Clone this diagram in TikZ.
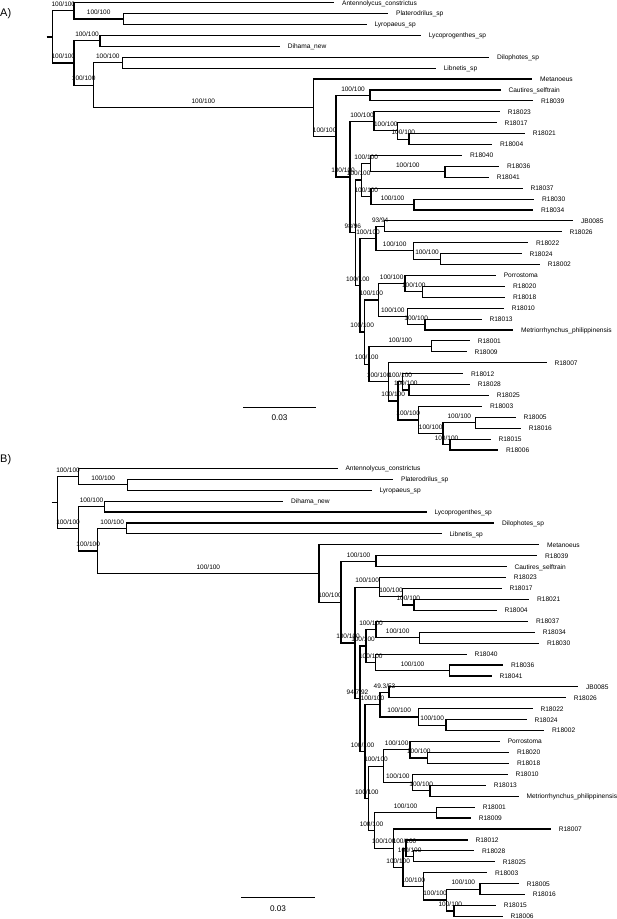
\documentclass[tikz,border=0pt]{standalone}
\usepackage{fontspec}
\setmainfont{Liberation Sans}
\usetikzlibrary{calc}
\newcommand\lff{\fontsize{6.6}{7}\selectfont}
\newcommand\svf{\fontsize{6.5}{7}\selectfont}
\tikzset{
  br/.style={line width=1.15pt},
  lf/.style={anchor=west, inner xsep=7.6pt, inner ysep=0pt, text height=4.73pt, text depth=0pt, font=\lff},
  sv/.style={anchor=base, inner sep=0pt, yshift=4.2pt, font=\svf},
  panel/.style={anchor=west, inner sep=0pt, text height=7.9pt, text depth=0pt, font=\fontsize{11}{12}\selectfont},
  sbl/.style={anchor=base, inner sep=0pt, font=\fontsize{8.2}{9}\selectfont},
}
\newcommand\trbr[2]{\draw[br] (#1) |- (#2);}
\newcommand\trsv[3]{\draw[br] (#1) |- (#2) node[sv,pos=.75] (s#2) {#3};}
\begin{document}
\begin{tikzpicture}[x=1pt,y=-1pt]
\useasboundingbox (0,0) rectangle (617,919);
%% ================= TREE A =================
\node[panel] (pa) at (0,12.5) {A)};
\coordinate (aroot) at (52.7,36.96);
\coordinate (astub) at (46.7,36.96);
\coordinate (aA1) at (74,10.88);
\coordinate (aPL) at (123.3,19.07);
\coordinate (aA2) at (74,63.04);
\coordinate (aLD) at (100,40.89);
\coordinate (aB2) at (93.3,85.18);
\coordinate (aDL) at (122.3,62.71);
\coordinate (aI) at (313.3,107.65);
\coordinate (aJ) at (336,136.23);
\coordinate (aK) at (370,95.44);
\coordinate (aL) at (350,177.01);
\coordinate (aM) at (374,121.35);
\coordinate (aM2) at (397.7,130.9);
\coordinate (aM3) at (409,139.08);
\coordinate (aR) at (355.7,232.67);
\coordinate (aP) at (361.7,179.99);
\coordinate (aX1) at (370.7,163.62);
\coordinate (aX1b) at (445,171.8);
\coordinate (aX2) at (371,196.35);
\coordinate (aX2b) at (414,204.54);
\coordinate (aS) at (360,285.34);
\coordinate (aT) at (376,238.63);
\coordinate (aU) at (384.3,226.36);
\coordinate (aV) at (413.3,250.9);
\coordinate (aVb) at (440.7,259.09);
\coordinate (aW) at (364.3,332.05);
\coordinate (aW1) at (378.3,300.0);
\coordinate (aPor) at (405,283.63);
\coordinate (aPorb) at (422.7,291.81);
\coordinate (aR10) at (407.3,316.36);
\coordinate (aR10b) at (425,324.55);
\coordinate (aW2) at (369,364.1);
\coordinate (aR01) at (431.7,346.37);
\coordinate (aX) at (388.3,381.82);
\coordinate (aY) at (398,400.92);
\coordinate (aY1) at (402.5,381.82);
\coordinate (aY1b) at (409,390.0);
\coordinate (aY2) at (418.3,420.01);
\coordinate (aY2c) at (443,433.65);
\coordinate (aY2a) at (475.7,422.74);
\coordinate (aY2b) at (450,444.56);
% leaves A
\node[lf] (aAntenn) at (334.3,2.7) {Antennolycus\_constrictus};
\node[lf] (aPlat) at (388.3,13.61) {Platerodrilus\_sp};
\node[lf] (aLyro) at (366.7,24.52) {Lyropaeus\_sp};
\node[lf] (aLyco) at (421,35.43) {Lycoprogenthes\_sp};
\node[lf] (aDiha) at (280,46.34) {Dihama\_new};
\node[lf] (aDilo) at (489.3,57.25) {Dilophotes\_sp};
\node[lf] (aLibn) at (436,68.16) {Libnetis\_sp};
\node[lf] (aMeta) at (532.3,79.07) {Metanoeus};
\node[lf] (aCaut) at (500.7,89.98) {Cautires\_selftrain};
\node[lf] (a18039) at (533.3,100.89) {R18039};
\node[lf] (a18023) at (500,111.8) {R18023};
\node[lf] (a18017) at (496.7,122.71) {R18017};
\node[lf] (a18021) at (525,133.62) {R18021};
\node[lf] (a18004) at (492.3,144.53) {R18004};
\node[lf] (a18040) at (462.3,155.44) {R18040};
\node[lf] (a18036) at (499.3,166.35) {R18036};
\node[lf] (a18041) at (489,177.26) {R18041};
\node[lf] (a18037) at (522.7,188.17) {R18037};
\node[lf] (a18030) at (534.3,199.08) {R18030};
\node[lf] (a18034) at (533.3,209.99) {R18034};
\node[lf] (aJB) at (573.3,220.9) {JB0085};
\node[lf] (a18026) at (561.7,231.81) {R18026};
\node[lf] (a18022) at (528.3,242.72) {R18022};
\node[lf] (a18024) at (521.7,253.63) {R18024};
\node[lf] (a18002) at (540,264.54) {R18002};
\node[lf] (aPorr) at (496,275.45) {Porrostoma};
\node[lf] (a18020) at (505.3,286.36) {R18020};
\node[lf] (a18018) at (505.3,297.27) {R18018};
\node[lf] (a18010) at (504,308.18) {R18010};
\node[lf] (a18013) at (481.7,319.09) {R18013};
\node[lf] (aMetr) at (513.3,330.0) {Metriorrhynchus\_philippinensis};
\node[lf] (a18001) at (470,340.91) {R18001};
\node[lf] (a18009) at (466.7,351.82) {R18009};
\node[lf] (a18007) at (546.7,362.73) {R18007};
\node[lf] (a18012) at (463.3,373.64) {R18012};
\node[lf] (a18028) at (470,384.55) {R18028};
\node[lf] (a18025) at (489,395.46) {R18025};
\node[lf] (a18003) at (482.3,406.37) {R18003};
\node[lf] (a18005) at (515.7,417.28) {R18005};
\node[lf] (a18016) at (521,428.19) {R18016};
\node[lf] (a18015) at (490.7,439.1) {R18015};
\node[lf] (a18006) at (498.3,450.01) {R18006};
% branches A
\draw[br] (astub) -- (aroot);
\trsv{aroot}{aA1}{100/100}
\trsv{aroot}{aA2}{100/100}
\trbr{aA1}{aAntenn.west}
\trsv{aA1}{aPL}{100/100}
\trbr{aPL}{aPlat.west}
\trbr{aPL}{aLyro.west}
\trsv{aA2}{aLD}{100/100}
\trsv{aA2}{aB2}{100/100}
\trbr{aLD}{aLyco.west}
\trbr{aLD}{aDiha.west}
\trsv{aB2}{aDL}{100/100}
\trsv{aB2}{aI}{100/100}
\trbr{aDL}{aDilo.west}
\trbr{aDL}{aLibn.west}
\trbr{aI}{aMeta.west}
\trsv{aI}{aJ}{100/100}
\trsv{aJ}{aK}{100/100}
\trsv{aJ}{aL}{100/100}
\trbr{aK}{aCaut.west}
\trbr{aK}{a18039.west}
\trsv{aL}{aM}{100/100}
\trsv{aL}{aR}{98/96}
\trbr{aM}{a18023.west}
\trsv{aM}{aM2}{100/100}
\trbr{aM2}{a18017.west}
\trsv{aM2}{aM3}{100/100}
\trbr{aM3}{a18021.west}
\trbr{aM3}{a18004.west}
\trsv{aR}{aP}{100/100}
\trsv{aR}{aS}{100/100}
\trsv{aP}{aX1}{100/100}
\trsv{aP}{aX2}{100/100}
\trbr{aX1}{a18040.west}
\trsv{aX1}{aX1b}{100/100}
\trbr{aX1b}{a18036.west}
\trbr{aX1b}{a18041.west}
\trbr{aX2}{a18037.west}
\trsv{aX2}{aX2b}{100/100}
\trbr{aX2b}{a18030.west}
\trbr{aX2b}{a18034.west}
\trsv{aS}{aT}{100/100}
\trsv{aS}{aW}{100/100}
\trsv{aT}{aU}{93/94}
\trsv{aT}{aV}{100/100}
\trbr{aU}{aJB.west}
\trbr{aU}{a18026.west}
\trbr{aV}{a18022.west}
\trsv{aV}{aVb}{100/100}
\trbr{aVb}{a18024.west}
\trbr{aVb}{a18002.west}
\trsv{aW}{aW1}{100/100}
\trsv{aW}{aW2}{100/100}
\trsv{aW1}{aPor}{100/100}
\trsv{aW1}{aR10}{100/100}
\trbr{aPor}{aPorr.west}
\trsv{aPor}{aPorb}{100/100}
\trbr{aPorb}{a18020.west}
\trbr{aPorb}{a18018.west}
\trbr{aR10}{a18010.west}
\trsv{aR10}{aR10b}{100/100}
\trbr{aR10b}{a18013.west}
\trbr{aR10b}{aMetr.west}
\trsv{aW2}{aR01}{100/100}
\trsv{aW2}{aX}{100/100}
\trbr{aR01}{a18001.west}
\trbr{aR01}{a18009.west}
\trbr{aX}{a18007.west}
\trsv{aX}{aY}{100/100}
\trsv{aY}{aY1}{100/100}
\trsv{aY}{aY2}{100/100}
\trbr{aY1}{a18012.west}
\trsv{aY1}{aY1b}{100/100}
\trbr{aY1b}{a18028.west}
\trbr{aY1b}{a18025.west}
\trbr{aY2}{a18003.west}
\trsv{aY2}{aY2c}{100/100}
\trsv{aY2c}{aY2a}{100/100}
\trsv{aY2c}{aY2b}{100/100}
\trbr{aY2a}{a18005.west}
\trbr{aY2a}{a18016.west}
\trbr{aY2b}{a18015.west}
\trbr{aY2b}{a18006.west}
% scale bar A
\coordinate (asb1) at (243,407.3);
\coordinate (asb2) at (316,407.3);
\draw[br] (asb1) -- (asb2);
\node[sbl] (asbt) at (279.5,420.6) {0.03};
%% ================= TREE B =================
\node[panel] (pb) at (0,458.5) {B)};
\coordinate (broot) at (57.3,502.63);
\coordinate (bstub) at (51.7,502.63);
\coordinate (bA1) at (78.7,476.50);
\coordinate (bPL) at (127.7,484.70);
\coordinate (bA2) at (78.7,528.75);
\coordinate (bLD) at (104.3,506.56);
\coordinate (bB2) at (97.7,550.94);
\coordinate (bDL) at (126.7,528.42);
\coordinate (bI) at (319,573.45);
\coordinate (bJ) at (341,602.08);
\coordinate (bK) at (376,561.21);
\coordinate (bL) at (355,642.94);
\coordinate (bM) at (379.3,587.17);
\coordinate (bM2) at (402.7,596.73);
\coordinate (bM3) at (414,604.93);
\coordinate (bR) at (360,698.70);
\coordinate (bP) at (366,645.92);
\coordinate (bX2) at (376,629.52);
\coordinate (bX2b) at (419.3,637.72);
\coordinate (bX1) at (375.7,662.31);
\coordinate (bX1b) at (449.3,670.51);
\coordinate (bS) at (365,751.47);
\coordinate (bT) at (380,704.67);
\coordinate (bU) at (389,692.37);
\coordinate (bV) at (418.3,716.96);
\coordinate (bVb) at (446,725.16);
\coordinate (bW) at (368.7,798.26);
\coordinate (bW1) at (383.3,766.15);
\coordinate (bPor) at (410,749.75);
\coordinate (bPorb) at (427.7,757.95);
\coordinate (bR10) at (412.3,782.54);
\coordinate (bR10b) at (430,790.74);
\coordinate (bW2) at (374.3,830.36);
\coordinate (bR01) at (436.7,812.6);
\coordinate (bX) at (393.3,848.12);
\coordinate (bY) at (403,867.25);
\coordinate (bY1) at (406,848.12);
\coordinate (bY1b) at (413.3,856.32);
\coordinate (bY2) at (423.5,886.38);
\coordinate (bY2c) at (446.7,900.04);
\coordinate (bY2a) at (480,889.11);
\coordinate (bY2b) at (454,910.97);
% leaves B
\node[lf] (bAntenn) at (337.7,468.3) {Antennolycus\_constrictus};
\node[lf] (bPlat) at (393.3,479.23) {Platerodrilus\_sp};
\node[lf] (bLyro) at (371.7,490.16) {Lyropaeus\_sp};
\node[lf] (bDiha) at (283.3,501.09) {Dihama\_new};
\node[lf] (bLyco) at (426.7,512.02) {Lycoprogenthes\_sp};
\node[lf] (bDilo) at (494.3,522.95) {Dilophotes\_sp};
\node[lf] (bLibn) at (441.7,533.88) {Libnetis\_sp};
\node[lf] (bMeta) at (539.3,544.81) {Metanoeus};
\node[lf] (b18039) at (537.3,555.74) {R18039};
\node[lf] (bCaut) at (506.7,566.67) {Cautires\_selftrain};
\node[lf] (b18023) at (506,577.6) {R18023};
\node[lf] (b18017) at (501.7,588.53) {R18017};
\node[lf] (b18021) at (529.3,599.46) {R18021};
\node[lf] (b18004) at (496.7,610.39) {R18004};
\node[lf] (b18037) at (528.3,621.32) {R18037};
\node[lf] (b18034) at (535,632.25) {R18034};
\node[lf] (b18030) at (539.3,643.18) {R18030};
\node[lf] (b18040) at (466.7,654.11) {R18040};
\node[lf] (b18036) at (503.3,665.04) {R18036};
\node[lf] (b18041) at (491.7,675.97) {R18041};
\node[lf] (bJB) at (578.3,686.9) {JB0085};
\node[lf] (b18026) at (566,697.83) {R18026};
\node[lf] (b18022) at (532.7,708.76) {R18022};
\node[lf] (b18024) at (526.7,719.69) {R18024};
\node[lf] (b18002) at (544.3,730.62) {R18002};
\node[lf] (bPorr) at (500,741.55) {Porrostoma};
\node[lf] (b18020) at (509.3,752.48) {R18020};
\node[lf] (b18018) at (509.3,763.41) {R18018};
\node[lf] (b18010) at (507.7,774.34) {R18010};
\node[lf] (b18013) at (486,785.27) {R18013};
\node[lf] (bMetr) at (518.7,796.2) {Metriorrhynchus\_philippinensis};
\node[lf] (b18001) at (475,807.13) {R18001};
\node[lf] (b18009) at (471,818.06) {R18009};
\node[lf] (b18007) at (551,828.99) {R18007};
\node[lf] (b18012) at (467.7,839.92) {R18012};
\node[lf] (b18028) at (474.3,850.85) {R18028};
\node[lf] (b18025) at (495,861.78) {R18025};
\node[lf] (b18003) at (487.3,872.71) {R18003};
\node[lf] (b18005) at (519,883.64) {R18005};
\node[lf] (b18016) at (525,894.57) {R18016};
\node[lf] (b18015) at (496,905.5) {R18015};
\node[lf] (b18006) at (502.7,916.43) {R18006};
% branches B
\draw[br] (bstub) -- (broot);
\trsv{broot}{bA1}{100/100}
\trsv{broot}{bA2}{100/100}
\trbr{bA1}{bAntenn.west}
\trsv{bA1}{bPL}{100/100}
\trbr{bPL}{bPlat.west}
\trbr{bPL}{bLyro.west}
\trsv{bA2}{bLD}{100/100}
\trsv{bA2}{bB2}{100/100}
\trbr{bLD}{bDiha.west}
\trbr{bLD}{bLyco.west}
\trsv{bB2}{bDL}{100/100}
\trsv{bB2}{bI}{100/100}
\trbr{bDL}{bDilo.west}
\trbr{bDL}{bLibn.west}
\trbr{bI}{bMeta.west}
\trsv{bI}{bJ}{100/100}
\trsv{bJ}{bK}{100/100}
\trsv{bJ}{bL}{100/100}
\trbr{bK}{b18039.west}
\trbr{bK}{bCaut.west}
\trsv{bL}{bM}{100/100}
\trsv{bL}{bR}{94.7/92}
\trbr{bM}{b18023.west}
\trsv{bM}{bM2}{100/100}
\trbr{bM2}{b18017.west}
\trsv{bM2}{bM3}{100/100}
\trbr{bM3}{b18021.west}
\trbr{bM3}{b18004.west}
\trsv{bR}{bP}{100/100}
\trsv{bR}{bS}{100/100}
\trsv{bP}{bX2}{100/100}
\trsv{bP}{bX1}{100/100}
\trbr{bX2}{b18037.west}
\trsv{bX2}{bX2b}{100/100}
\trbr{bX2b}{b18034.west}
\trbr{bX2b}{b18030.west}
\trbr{bX1}{b18040.west}
\trsv{bX1}{bX1b}{100/100}
\trbr{bX1b}{b18036.west}
\trbr{bX1b}{b18041.west}
\trsv{bS}{bT}{100/100}
\trsv{bS}{bW}{100/100}
\trsv{bT}{bU}{49.3/53}
\trsv{bT}{bV}{100/100}
\trbr{bU}{bJB.west}
\trbr{bU}{b18026.west}
\trbr{bV}{b18022.west}
\trsv{bV}{bVb}{100/100}
\trbr{bVb}{b18024.west}
\trbr{bVb}{b18002.west}
\trsv{bW}{bW1}{100/100}
\trsv{bW}{bW2}{100/100}
\trsv{bW1}{bPor}{100/100}
\trsv{bW1}{bR10}{100/100}
\trbr{bPor}{bPorr.west}
\trsv{bPor}{bPorb}{100/100}
\trbr{bPorb}{b18020.west}
\trbr{bPorb}{b18018.west}
\trbr{bR10}{b18010.west}
\trsv{bR10}{bR10b}{100/100}
\trbr{bR10b}{b18013.west}
\trbr{bR10b}{bMetr.west}
\trsv{bW2}{bR01}{100/100}
\trsv{bW2}{bX}{100/100}
\trbr{bR01}{b18001.west}
\trbr{bR01}{b18009.west}
\trbr{bX}{b18007.west}
\trsv{bX}{bY}{100/100}
\trsv{bY}{bY1}{100/100}
\trsv{bY}{bY2}{100/100}
\trbr{bY1}{b18012.west}
\trsv{bY1}{bY1b}{100/100}
\trbr{bY1b}{b18028.west}
\trbr{bY1b}{b18025.west}
\trbr{bY2}{b18003.west}
\trsv{bY2}{bY2c}{100/100}
\trsv{bY2c}{bY2a}{100/100}
\trsv{bY2c}{bY2b}{100/100}
\trbr{bY2a}{b18005.west}
\trbr{bY2a}{b18016.west}
\trbr{bY2b}{b18015.west}
\trbr{bY2b}{b18006.west}
% scale bar B
\coordinate (bsb1) at (241,897.7);
\coordinate (bsb2) at (315,897.7);
\draw[br] (bsb1) -- (bsb2);
\node[sbl] (bsbt) at (278,911.2) {0.03};
\end{tikzpicture}
\end{document}
